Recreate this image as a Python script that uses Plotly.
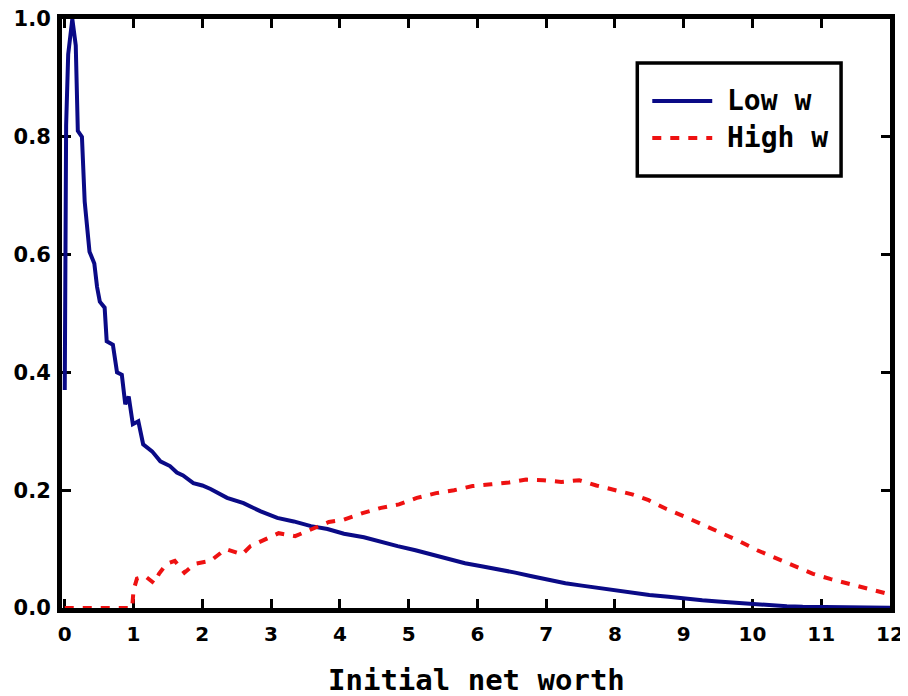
import plotly.graph_objects as go

# ---- data ----
low_x = [0.0, 0.02, 0.05, 0.11, 0.16, 0.19, 0.25, 0.29, 0.36, 0.43, 0.47, 0.51, 0.58, 0.61,
         0.70, 0.76, 0.83, 0.88, 0.93, 0.99, 1.07, 1.14, 1.27, 1.39, 1.53, 1.63, 1.72, 1.87,
         2.0, 2.12, 2.36, 2.6, 2.85, 3.09, 3.33, 3.58, 3.82, 4.06, 4.35, 4.6, 4.84, 5.1,
         5.33, 5.58, 5.82, 6.06, 6.30, 6.55, 6.79, 7.04, 7.28, 7.52, 7.76, 8.0, 8.25, 8.5,
         8.78, 9.0, 9.27, 9.5, 9.75, 10.0, 10.24, 10.5, 10.73, 11.0, 11.5, 12.0]
low_y = [0.37, 0.82, 0.94, 1.0, 0.955, 0.81, 0.80, 0.69, 0.605, 0.585, 0.545, 0.52, 0.51, 0.453,
         0.447, 0.40, 0.396, 0.346, 0.359, 0.312, 0.317, 0.278, 0.266, 0.249, 0.241, 0.230, 0.225, 0.212,
         0.208, 0.202, 0.187, 0.178, 0.164, 0.153, 0.147, 0.139, 0.134, 0.126, 0.120, 0.112, 0.105, 0.098,
         0.091, 0.083, 0.076, 0.071, 0.066, 0.060, 0.054, 0.048, 0.042, 0.038, 0.034, 0.029, 0.025, 0.022,
         0.019, 0.016, 0.013, 0.011, 0.009, 0.006, 0.005, 0.003, 0.002, 0.0015, 0.001, 0.0005]

high_x = [0.0, 0.98, 1.0, 1.05, 1.17, 1.3, 1.37, 1.48, 1.6, 1.74, 1.89, 2.12, 2.34, 2.58, 2.70,
          2.87, 3.11, 3.35, 3.62, 3.84, 4.06, 4.33, 4.6, 4.86, 5.12, 5.40, 5.66, 5.93, 6.2,
          6.46, 6.71, 6.96, 7.22, 7.48, 7.73, 7.99, 8.25, 8.49, 8.75, 9.0, 9.27, 9.53, 9.8,
          10.07, 10.34, 10.61, 10.88, 11.14, 11.41, 11.68, 11.96, 12.0]
high_y = [0.0, 0.0, 0.03, 0.05, 0.054, 0.042, 0.058, 0.075, 0.08, 0.06, 0.075, 0.08, 0.10, 0.091, 0.105,
          0.114, 0.127, 0.122, 0.136, 0.146, 0.150, 0.161, 0.17, 0.176, 0.187, 0.195, 0.2, 0.207, 0.21,
          0.213, 0.218, 0.217, 0.214, 0.217, 0.208, 0.2, 0.193, 0.183, 0.168, 0.156, 0.142, 0.127, 0.114,
          0.098, 0.085, 0.071, 0.058, 0.049, 0.041, 0.032, 0.024, 0.023]

x_ticks = list(range(0, 13))
y_ticks = [0.0, 0.2, 0.4, 0.6, 0.8, 1.0]
y_tick_text = ["0.0", "0.2", "0.4", "0.6", "0.8", "1.0"]

series_names = ["Low w", "High w"]
series_colors = ["#0a0a86", "#ee1111"]
series_dash = ["solid", "9px,9px"]
x_title = "Initial net worth"

TXT_FONT = "DejaVu Sans Mono"
TICK_FONT = "DejaVu Sans"

fig = go.Figure()
fig.add_trace(go.Scatter(x=low_x, y=low_y, mode="lines", name=series_names[0], showlegend=False,
                         line=dict(color=series_colors[0], width=4, dash=series_dash[0])))
fig.add_trace(go.Scatter(x=high_x, y=high_y, mode="lines", name=series_names[1], showlegend=False,
                         line=dict(color=series_colors[1], width=4, dash=series_dash[1])))

axis_common = dict(showline=True, linecolor="black", linewidth=5, mirror="ticks",
                   ticks="inside", ticklen=9, tickwidth=3, tickcolor="black",
                   showgrid=False, zeroline=False, automargin=False,
                   ticklabeloverflow="allow", layer="below traces")

# legend box drawn in paper coordinates
leg_x0, leg_x1, leg_y0, leg_y1 = 0.6948, 0.9409, 0.7334, 0.9253
row_y = [0.8608, 0.7980]
fig.add_shape(type="rect", xref="paper", yref="paper", x0=leg_x0, x1=leg_x1, y0=leg_y0, y1=leg_y1,
              line=dict(color="black", width=3.5), fillcolor="white", layer="above")
for i, name in enumerate(series_names):
    fig.add_shape(type="line", xref="paper", yref="paper", x0=0.7129, x1=0.7853, y0=row_y[i], y1=row_y[i],
                  line=dict(color=series_colors[i], width=4, dash=series_dash[i]), layer="above")
    fig.add_annotation(xref="paper", yref="paper", x=0.8010, y=row_y[i], xanchor="left", yanchor="middle",
                       text=name, showarrow=False,
                       font=dict(family=TXT_FONT, size=28, color="black", weight="bold"))

fig.add_annotation(xref="paper", yref="paper", x=0.5, y=-0.1222, xanchor="center", yanchor="middle",
                   text=x_title, showarrow=False,
                   font=dict(family=TXT_FONT, size=29, color="black", weight="bold"))

fig.update_layout(
    width=908, height=696,
    margin=dict(l=54, r=26, t=11, b=96),
    paper_bgcolor="white", plot_bgcolor="white",
    showlegend=False,
    xaxis=dict(range=[-0.04, 12], tickvals=x_ticks, ticktext=[str(t) for t in x_ticks],
               tickfont=dict(family=TICK_FONT, size=20, color="black", weight="bold"),
               ticklabelstandoff=4, **axis_common),
    yaxis=dict(range=[0, 1.0], tickvals=y_ticks, ticktext=y_tick_text,
               tickfont=dict(family=TICK_FONT, size=21, color="black", weight="bold"),
               ticklabelstandoff=2, **axis_common),
)

fig.write_html("out.html")
